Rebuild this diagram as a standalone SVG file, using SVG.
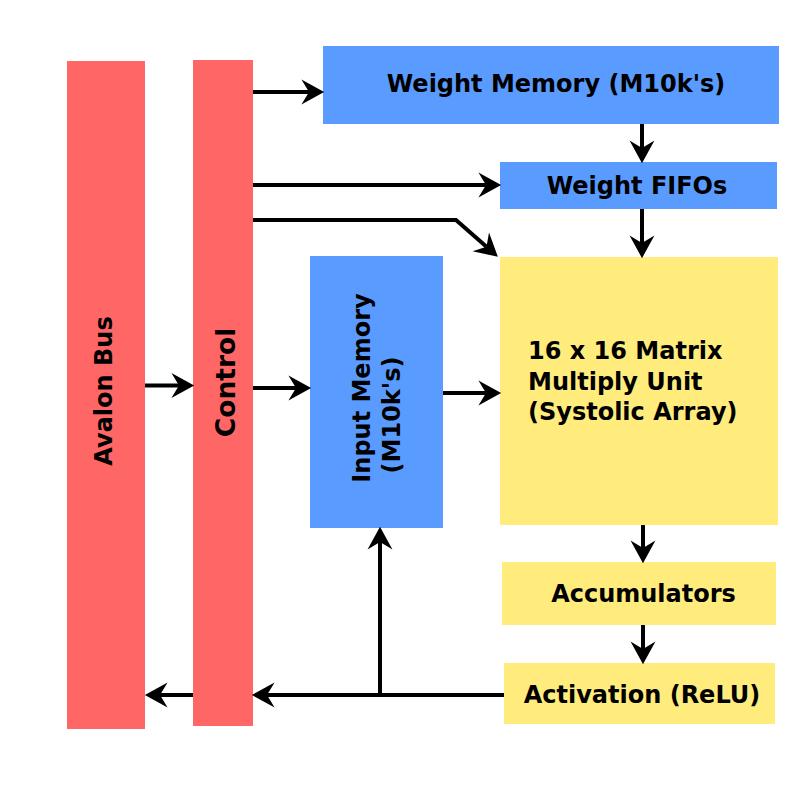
<svg xmlns="http://www.w3.org/2000/svg" width="800" height="800" viewBox="0 0 800 800">
<style>
.red{fill:#FF6666}
.blue{fill:#5A9BFF}
.yel{fill:#FFEC7D}
text{font-family:"DejaVu Sans","Liberation Sans",sans-serif;font-weight:bold;fill:#000;font-size:24px}
.c{text-anchor:middle}
.conn{fill:none;stroke:#000;stroke-width:4}
</style>
<defs>
<marker id="ah" markerUnits="userSpaceOnUse" markerWidth="24" markerHeight="26" viewBox="0 -12 22 24" refX="7" refY="0" orient="auto">
<path d="M21,0 L0,-11.5 L7,0 L0,11.5 Z" fill="#000"/>
</marker>
</defs>
<rect width="800" height="800" fill="#fff"/>
<g id="avalon-bus"><rect class="red" x="67" y="61" width="78" height="668"/><text class="c" transform="translate(111.5,391) rotate(-90)">Avalon Bus</text></g>
<g id="control"><rect class="red" x="193" y="60" width="60" height="666"/><text class="c" style="font-size:26.5px" transform="translate(235,382.5) rotate(-90)">Control</text></g>
<g id="weight-memory"><rect class="blue" x="323" y="46" width="456" height="78"/><text class="c" x="556" y="92">Weight Memory (M10k's)</text></g>
<g id="weight-fifos"><rect class="blue" x="500" y="162" width="277" height="47"/><text class="c" x="637" y="194">Weight FIFOs</text></g>
<g id="input-memory"><rect class="blue" x="310" y="256" width="133" height="272"/><text class="c" transform="translate(369.5,388) rotate(-90)">Input Memory</text><text class="c" transform="translate(400,415) rotate(-90)">(M10k's)</text></g>
<g id="matrix-unit"><rect class="yel" x="500" y="257" width="278" height="268"/><text x="528" y="359">16 x 16 Matrix</text><text x="528" y="389.5">Multiply Unit</text><text x="528" y="420">(Systolic Array)</text></g>
<g id="accumulators"><rect class="yel" x="502" y="562" width="274" height="63"/><text class="c" x="643.5" y="602">Accumulators</text></g>
<g id="activation"><rect class="yel" x="504" y="663" width="271" height="61"/><text class="c" x="642" y="703">Activation (ReLU)</text></g>
<g id="connectors">
<path class="conn" marker-end="url(#ah)" d="M253,92 H309"/>
<path class="conn" marker-end="url(#ah)" d="M253,185 H486"/>
<path class="conn" marker-end="url(#ah)" d="M253,220 H456 L486.5,246.8"/>
<path class="conn" marker-end="url(#ah)" d="M642,124 V148"/>
<path class="conn" marker-end="url(#ah)" d="M642,209 V243"/>
<path class="conn" marker-end="url(#ah)" d="M145,385.5 H179"/>
<path class="conn" marker-end="url(#ah)" d="M253,388 H296"/>
<path class="conn" marker-end="url(#ah)" d="M443,393 H486"/>
<path class="conn" marker-end="url(#ah)" d="M643,525 V548"/>
<path class="conn" marker-end="url(#ah)" d="M643,625 V649"/>
<path class="conn" marker-end="url(#ah)" d="M504,695 H267"/>
<path class="conn" marker-end="url(#ah)" d="M193,695 H160"/>
<path class="conn" marker-end="url(#ah)" d="M380,695 V542"/>
</g>
</svg>
